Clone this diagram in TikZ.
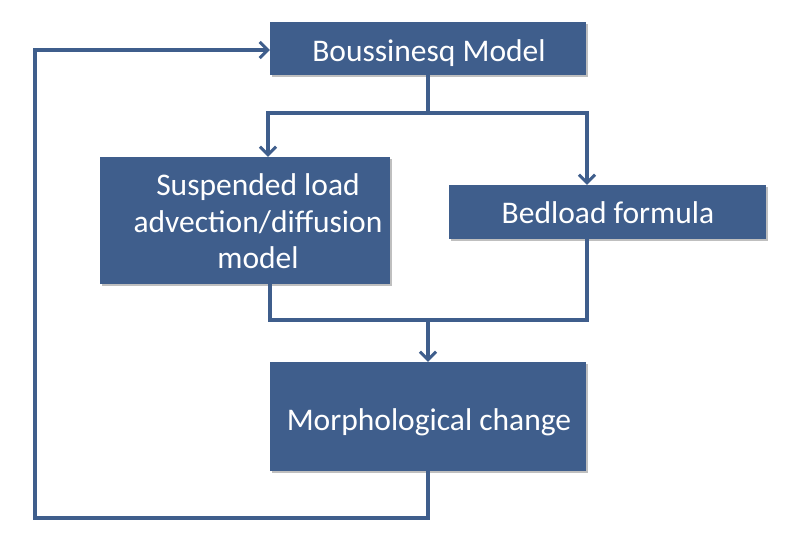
\documentclass[tikz,border=0pt]{standalone}
\usepackage{fontspec}
\setmainfont{Carlito}
\usetikzlibrary{arrows.meta,shadows}
\definecolor{boxblue}{HTML}{3F5E8C}
\begin{document}
\begin{tikzpicture}[x=1pt,y=-1pt,
  blk/.style={fill=boxblue,draw=none,inner sep=0pt,
    drop shadow={shadow xshift=1.5pt,shadow yshift=-1.5pt,fill=black,opacity=0.25}},
  lbl/.style={text=white,font=\fontsize{31.5}{36}\selectfont,align=center,inner sep=0pt,anchor=base},
  conn/.style={draw=boxblue,line width=3.5pt},
  arr/.style={conn,-{Straight Barb[length=8pt,width=16pt,line width=3pt]}}]
\useasboundingbox (0,0) rectangle (785,550);
\node[blk,minimum width=316pt,minimum height=53pt] (bm) at (428,48.5) {};
\node[blk,minimum width=290pt,minimum height=127pt] (sl) at (245,220.5) {};
\node[blk,minimum width=317pt,minimum height=54pt] (bf) at (607.5,212) {};
\node[blk,minimum width=316pt,minimum height=109pt] (mc) at (428,416.5) {};
\node[lbl] (bmt) at (429,61.7) {Boussinesq Model};
\node[lbl] (slt1) at (258,195) {Suspended load};
\node[lbl] (slt2) at (258,232) {advection/diffusion};
\node[lbl] (slt3) at (258,268) {model};
\node[lbl] (bft) at (608,223.7) {Bedload formula};
\node[lbl] (mct) at (429,430) {Morphological change};
\coordinate (split) at (428,113);
\coordinate (join) at (428,320);
\draw[conn] (bm.south) -- (split);
\draw[arr] (split) -| (sl.north -| 268,0);
\draw[arr] (split) -| (bf.north -| 587,0);
\draw[conn] (sl.south -| 270,0) |- (join) -| (bf.south -| 587,0);
\draw[arr] (join) -- (mc.north);
\draw[arr] (mc.south) |- (35,518) |- (bm.west |- 0,50);
\end{tikzpicture}
\end{document}
